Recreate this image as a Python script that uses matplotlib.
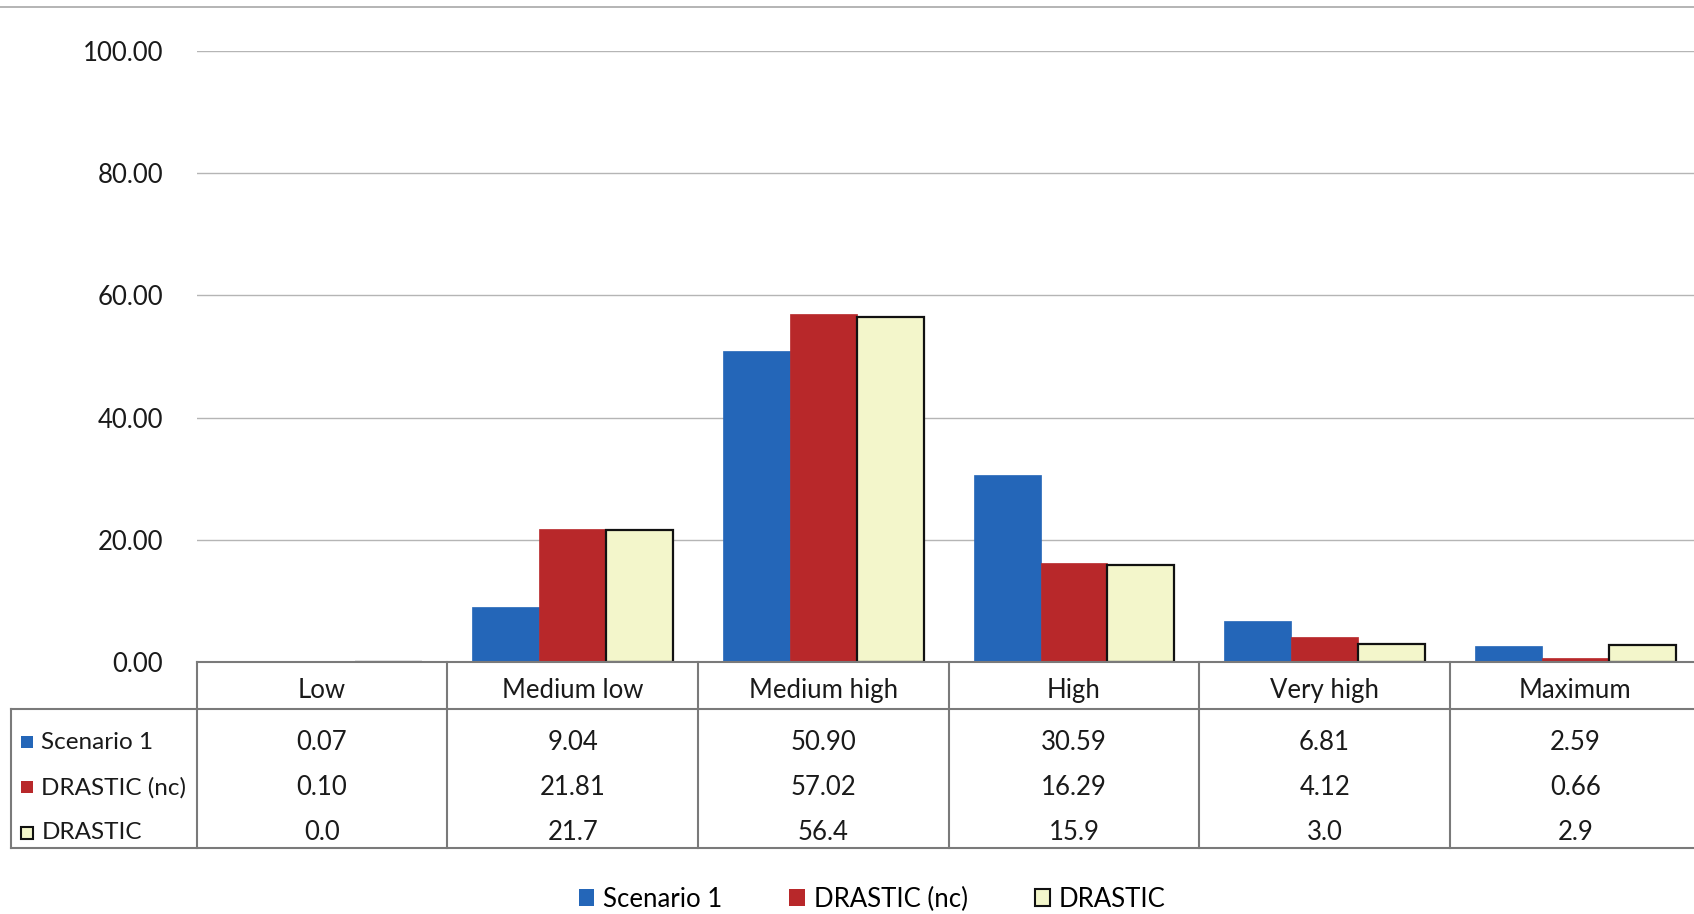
import matplotlib.pyplot as plt
from matplotlib.lines import Line2D
from matplotlib.patches import Patch
import numpy as np

plt.rcParams['font.family'] = ['Lato', 'DejaVu Sans']

categories = ['Low', 'Medium low', 'Medium high', 'High', 'Very high', 'Maximum']
series_names = ['Scenario 1', 'DRASTIC (nc)', 'DRASTIC']
scenario1 = [0.07, 9.04, 50.90, 30.59, 6.81, 2.59]
drastic_nc = [0.10, 21.81, 57.02, 16.29, 4.12, 0.66]
drastic = [0.0, 21.7, 56.4, 15.9, 3.0, 2.9]
table_text = [
    ['0.07', '9.04', '50.90', '30.59', '6.81', '2.59'],
    ['0.10', '21.81', '57.02', '16.29', '4.12', '0.66'],
    ['0.0', '21.7', '56.4', '15.9', '3.0', '2.9'],
]
yticks = [0, 20, 40, 60, 80, 100]

colors = ['#2466b8', '#b8282a', '#f3f6cb']
edges = ['#2466b8', '#b8282a', '#111111']
fs = 18.5
txt_c = '#1a1a1a'
line_c = '#7a7a7a'

fig = plt.figure(figsize=(16.94, 9.14), dpi=100)
ax = fig.add_axes([0.1161, 0.2754, 0.8878, 0.669])

x = np.arange(len(categories))
w = 0.267
for i, vals in enumerate([scenario1, drastic_nc, drastic]):
    ax.bar(x + (i - 1) * w, vals, w, color=colors[i], edgecolor=edges[i],
           linewidth=1.6 if i == 2 else 0.5, zorder=3)

ax.set_xlim(-0.5, len(categories) - 0.5)
ax.set_ylim(0, 100)
ax.set_yticks(yticks)
ax.set_yticklabels([f'{v:.2f}' for v in yticks], fontsize=fs, color=txt_c)
ax.tick_params(axis='y', length=0, pad=24)
ax.set_xticks([])
ax.grid(axis='y', color='#b5b5b5', linewidth=1.0)
for s in ax.spines.values():
    s.set_visible(False)

# data table under the plot
tb = fig.add_axes([0.1161, 0.0721, 0.8878, 0.2033])
tb.set_xlim(-0.5, len(categories) - 0.5)
tb.set_ylim(4, 0)
tb.axis('off')
left = -1.24
kw = dict(color=line_c, linewidth=1.5, clip_on=False)
tb.plot([-0.5, 5.5], [0, 0], **kw)
tb.plot([left, 5.5], [1, 1], **kw)
tb.plot([left, 5.5], [4, 4], **kw)
tb.plot([left, left], [1, 4], **kw)
for xv in np.arange(-0.5, 6, 1.0):
    tb.plot([xv, xv], [0, 4], **kw)

for j, c in enumerate(categories):
    tb.text(j, 0.6, c, ha='center', va='center', fontsize=fs, color=txt_c)
for i, row in enumerate(table_text):
    yy = 1.72 + i * 0.975
    for j, t in enumerate(row):
        tb.text(j, yy, t, ha='center', va='center', fontsize=fs, color=txt_c)
    tb.plot([left + 0.065], [yy], marker='s', markersize=9,
            markerfacecolor=colors[i], markeredgecolor=edges[i],
            markeredgewidth=1.5 if i == 2 else 0, clip_on=False)
    tb.text(left + 0.12, yy, series_names[i], ha='left', va='center',
            fontsize=17.5, color=txt_c)

# border line at the very top
fig.add_artist(Line2D([0, 1], [0.992, 0.992], transform=fig.transFigure,
                      color='#a8a8a8', linewidth=1.2))

handles = [Patch(facecolor=colors[i], edgecolor=edges[i],
                 linewidth=1.5 if i == 2 else 0) for i in range(3)]
fig.legend(handles, series_names, loc='center', bbox_to_anchor=(0.515, 0.0164),
           ncol=3, frameon=False, fontsize=fs, handlelength=0.6, handleheight=0.6,
           handletextpad=0.35, columnspacing=2.6)

fig.savefig('out.png', dpi=100)
